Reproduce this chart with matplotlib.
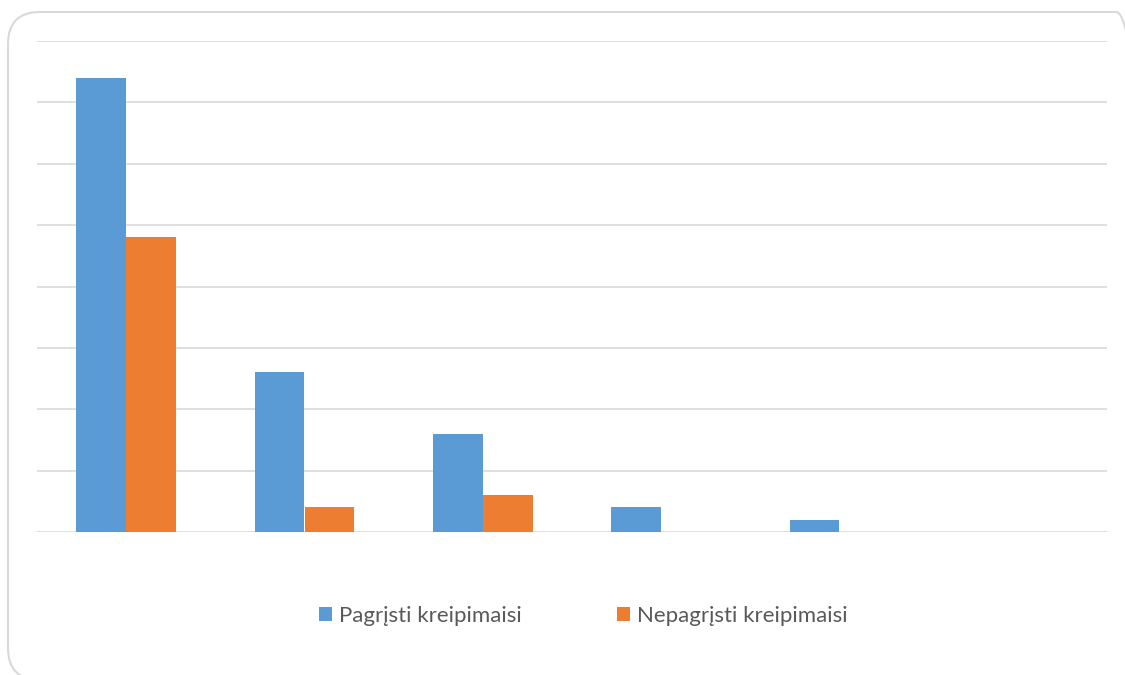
import numpy as np
import matplotlib.pyplot as plt
from matplotlib.patches import FancyBboxPatch

categories = ["1", "2", "3", "4", "5", "6"]
pagristi = [37, 13, 8, 2, 1, 0]
nepagristi = [24, 2, 3, 0, 0, 0]
labels = ["Pagrįsti kreipimaisi", "Nepagrįsti kreipimaisi"]

plt.rcParams['font.family'] = ['Lato', 'DejaVu Sans']

fig = plt.figure(figsize=(11.25, 6.75), dpi=100)
ax = fig.add_axes([37/1125, 1-532/675, 1070/1125, 491/675])

x = np.arange(len(categories))
w = 0.28
ax.bar(x - w/2, pagristi, w, color='#5b9bd5', label=labels[0], zorder=3)
ax.bar(x + w/2, nepagristi, w, color='#ed7d31', label=labels[1], zorder=3)

ax.set_xlim(-0.5, len(categories) - 0.5)
ax.set_ylim(0, 40)
ax.set_yticks(np.arange(0, 41, 5))
ax.yaxis.grid(True, color='#d9d9d9', linewidth=1.2, zorder=0)
ax.tick_params(left=False, bottom=False, labelleft=False, labelbottom=False)
for s in ax.spines.values():
    s.set_visible(False)

leg = fig.legend(loc='center', bbox_to_anchor=(583/1125, 1-616/675), ncol=2,
                 frameon=False, fontsize=16, handlelength=0.6, handleheight=0.6,
                 handletextpad=0.3, columnspacing=4.3)
for t in leg.get_texts():
    t.set_color('#595959')

# rounded outer frame, in pixel coordinates (runs off the right and bottom edges)
border = FancyBboxPatch((8, -5), 1140, 668,
                        boxstyle="round,pad=0,rounding_size=32",
                        transform=None, facecolor='none',
                        edgecolor='#d9d9d9', linewidth=1.5)
fig.patches.append(border)

fig.savefig("out.png", dpi=100)
